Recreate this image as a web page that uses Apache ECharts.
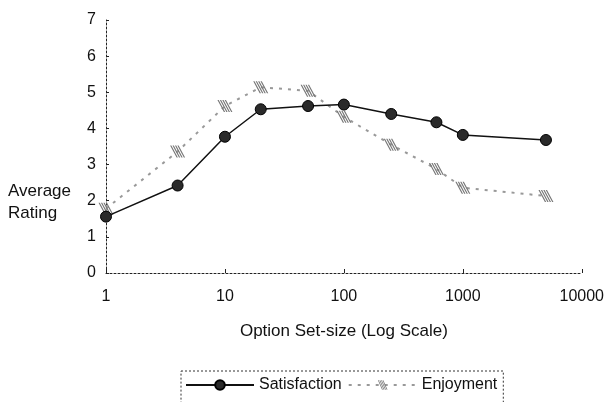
<!DOCTYPE html>
<html>
<head>
<meta charset="utf-8">
<script src="https://cdn.jsdelivr.net/npm/echarts@6/dist/echarts.min.js"></script>
<style>
  html, body { margin: 0; padding: 0; background: #fff; }
  #chart { width: 607px; height: 402px; }
</style>
</head>
<body>
<div id="chart"></div>
<script>
// option set sizes (log scale) and ratings
var setSizes = [1, 4, 10, 20, 50, 100, 250, 600, 1000, 5000];
var satisfaction = [1.56, 2.42, 3.77, 4.53, 4.62, 4.66, 4.40, 4.17, 3.82, 3.68];
var enjoyment = [1.78, 3.36, 4.62, 5.14, 5.04, 4.32, 3.55, 2.88, 2.36, 2.13];
var yTicks = [0, 1, 2, 3, 4, 5, 6, 7];

function pairs(xs, ys) {
  var out = [];
  for (var i = 0; i < xs.length; i++) out.push([xs[i], ys[i]]);
  return out;
}

// hatched square marker for Enjoyment
var hatch = 'path://' +
  'M0,0 L1.6,0 L9.6,10 L8,10 Z ' +
  'M3,0 L4.6,0 L12.6,10 L11,10 Z ' +
  'M6,0 L7.6,0 L15.6,10 L14,10 Z ' +
  'M9,0 L10.6,0 L18.6,10 L17,10 Z';

var font = 'Liberation Sans, Arial, sans-serif';
var myChart = echarts.init(document.getElementById('chart'));
var option = {
  animation: false,
  backgroundColor: '#fff',
  textStyle: { fontFamily: font },
  grid: { left: 106, right: 21, top: 20, bottom: 129 },
  xAxis: {
    type: 'log',
    logBase: 10,
    min: 1,
    max: 10000,
    name: 'Option Set-size (Log Scale)',
    nameLocation: 'middle',
    nameGap: 50,
    nameTextStyle: { fontSize: 17, color: '#111', fontFamily: font },
    axisLine: { lineStyle: { color: '#222', type: [2, 2], width: 1 } },
    axisTick: { inside: true, length: 4, lineStyle: { color: '#222' } },
    axisLabel: {
      fontSize: 16, color: '#111', margin: 16,
      formatter: function (v) { return String(Math.round(v)); }
    },
    splitLine: { show: false },
    minorTick: { show: false }
  },
  yAxis: {
    type: 'value',
    min: yTicks[0],
    max: yTicks[yTicks.length - 1],
    interval: 1,
    axisLine: { show: true, lineStyle: { color: '#222', type: [2, 2], width: 1 } },
    axisTick: { show: true, inside: true, length: 3, lineStyle: { color: '#222' } },
    axisLabel: { fontSize: 16, color: '#111', margin: 10 },
    splitLine: { show: false }
  },
  legend: {
    left: 181,
    top: 371,
    padding: [6, 6, 10, 4],
    itemWidth: 68,
    itemHeight: 12,
    itemGap: 6,
    borderColor: '#333',
    borderWidth: 1,
    borderType: [2, 2],
    textStyle: { fontSize: 16, color: '#111', fontFamily: font },
    data: ['Satisfaction', 'Enjoyment']
  },
  graphic: [{
    type: 'text',
    left: 8,
    top: 180,
    style: {
      text: 'Average\nRating',
      font: '17px ' + font,
      fill: '#111',
      align: 'center',
      lineHeight: 22,
      width: 70
    }
  }],
  series: [{
    name: 'Enjoyment',
    type: 'line',
    data: pairs(setSizes, enjoyment),
    symbol: hatch,
    symbolSize: [15, 12],
    itemStyle: { color: '#777' },
    lineStyle: { color: '#999', width: 2, type: [3, 6] },
    z: 2
  }, {
    name: 'Satisfaction',
    type: 'line',
    data: pairs(setSizes, satisfaction),
    symbol: 'circle',
    symbolSize: 11,
    itemStyle: { color: '#2a2a2a', borderColor: '#000', borderWidth: 1 },
    lineStyle: { color: '#111', width: 1.5 },
    z: 3
  }]
};
myChart.setOption(option);
</script>
</body>
</html>
